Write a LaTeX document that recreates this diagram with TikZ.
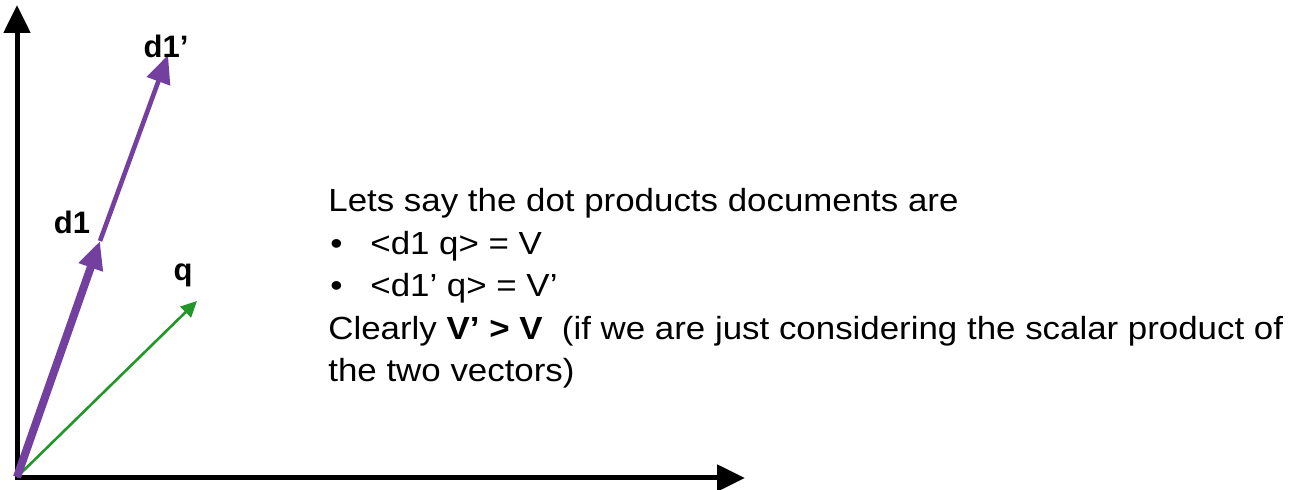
\documentclass[tikz,border=0pt]{standalone}
\usepackage{fontspec}
\setmainfont{Liberation Sans}
\newfontfamily\widefont[FakeStretch=1.09]{Liberation Sans}
\usetikzlibrary{arrows.meta}
\definecolor{vpurple}{HTML}{7440A0}
\definecolor{vgreen}{HTML}{23962A}
\tikzset{
  axis/.style={line width=2.5pt, -{Triangle[length=14pt,width=13pt]}},
  dvec/.style={vpurple, line width=#1, -{Triangle[length=14pt,width=12pt]}},
  qvec/.style={vgreen, line width=1.3pt, -{Triangle[length=8pt,width=7.5pt]}},
  vlabel/.style={font=\fontsize{15.5}{18}\selectfont\bfseries, inner sep=0pt},
  txt/.style={font=\widefont\fontsize{16}{19}\selectfont, anchor=base west, inner sep=0pt},
}
\begin{document}
\begin{tikzpicture}[x=0.5pt,y=-0.5pt]
\useasboundingbox (0,0) rectangle (1306,490);
\coordinate (O) at (17,477);
\coordinate (Oy) at (17,480);
\coordinate (Ox) at (15,478);
\coordinate (Ytip) at (17,5);
\coordinate (Xtip) at (745,478);
\coordinate (D1) at (100,241);
\coordinate (D1p) at (168,55);
\coordinate (Q) at (197,301);
\draw[axis] (Oy) -- (Ytip);
\draw[axis] (Ox) -- (Xtip);
\draw[qvec] (O) -- (Q);
\draw[dvec=2.3pt] (D1) -- (D1p);
\draw[dvec=4pt] (O) -- (D1);
\node[vlabel] (ld1p) at (166,46) {d1’};
\node[vlabel] (ld1) at (72,222) {d1};
\node[vlabel] (lq) at (183,275) {q};
\node[txt] (t1) at (328,212) {Lets say the dot products documents are};
\node[txt] (b1) at (330,254.5) {•};
\node[txt] (t2) at (370,254.5) {<d1 q> = V};
\node[txt] (b2) at (330,297) {•};
\node[txt] (t3) at (370,297) {<d1’ q> = V’};
\node[txt] (t4) at (328,339.5) {Clearly \textbf{V’ > V}\ \ (if we are just considering the scalar product of};
\node[txt] (t5) at (328,382) {the two vectors)};
\end{tikzpicture}
\end{document}
